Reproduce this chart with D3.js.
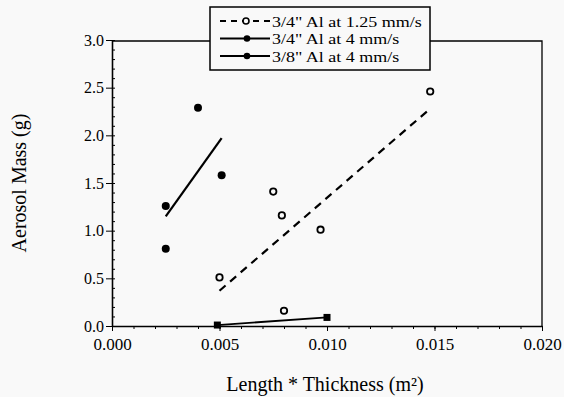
<!DOCTYPE html>
<html>
<head>
<meta charset="utf-8">
<script src="https://cdn.jsdelivr.net/npm/d3@7"></script>
<style>
  body { margin: 0; background: #f9f9f9; }
  svg { display: block; }
  .axis text { font-family: "Liberation Serif", "Times New Roman", serif; fill: #000; }
  .axis path, .axis line { stroke: #000; }
</style>
</head>
<body>
<div id="chart"></div>
<script>
// tick labels
const xTicks = [0, 0.005, 0.010, 0.015, 0.020];
const yTicks = [0.0, 0.5, 1.0, 1.5, 2.0, 2.5, 3.0];

// legend entries
const seriesNames = ['3/4" Al at 1.25 mm/s', '3/4" Al at 4 mm/s', '3/8" Al at 4 mm/s'];

// 3/4" Al at 1.25 mm/s (open circles + dashed fit)
const slowX = [0.0050, 0.0075, 0.0079, 0.0080, 0.0097, 0.0148];
const slowY = [0.51, 1.41, 1.16, 0.16, 1.01, 2.46];
const slowFitX = [0.0050, 0.0148];
const slowFitY = [0.37, 2.28];

// 3/4" Al at 4 mm/s (filled squares + line)
const fastX = [0.0049, 0.0100];
const fastY = [0.01, 0.09];

// 3/8" Al at 4 mm/s (filled circles + fit)
const thinX = [0.0025, 0.0025, 0.0040, 0.0051];
const thinY = [0.81, 1.26, 2.29, 1.58];
const thinFitX = [0.0025, 0.0051];
const thinFitY = [1.15, 1.97];

const width = 564, height = 397;
const plotL = 112, plotR = 542, plotT = 40, plotB = 326;

const svg = d3.select('#chart').append('svg')
  .attr('width', width).attr('height', height);

svg.append('rect').attr('width', width).attr('height', height).attr('fill', '#f9f9f9');

const x = d3.scaleLinear().domain([0, 0.02]).range([plotL, plotR]);
const y = d3.scaleLinear().domain([0, 3]).range([plotB, plotT]);

const font = '"Liberation Serif", "Times New Roman", serif';

// frame top / right
svg.append('path')
  .attr('d', `M${plotL},${plotT + 1}H${plotR}V${plotB}`)
  .attr('fill', 'none').attr('stroke', '#000').attr('stroke-width', 1.3);

// minor ticks
svg.append('g').attr('class', 'axis')
  .attr('transform', `translate(${plotL},0)`)
  .call(d3.axisRight(y).tickValues(d3.range(0, 3.001, 0.1)).tickSize(3).tickFormat(''))
  .call(g => g.select('.domain').remove());
svg.append('g').attr('class', 'axis')
  .attr('transform', `translate(0,${plotB})`)
  .call(d3.axisBottom(x).tickValues(d3.range(0, 0.0201, 0.001)).tickSize(3).tickFormat(''))
  .call(g => g.select('.domain').remove());

// major axes
svg.append('g').attr('class', 'axis')
  .attr('transform', `translate(${plotL},0)`)
  .call(d3.axisLeft(y).tickValues(yTicks).tickSize(6).tickSizeOuter(0).tickPadding(2).tickFormat(d3.format('.1f')))
  .call(g => g.select('.domain').attr('stroke-width', 1.6))
  .call(g => g.selectAll('text').attr('font-size', 16));

svg.append('g').attr('class', 'axis')
  .attr('transform', `translate(0,${plotB})`)
  .call(d3.axisBottom(x).tickValues(xTicks).tickSize(5).tickSizeOuter(0).tickPadding(7).tickFormat(d3.format('.3f')))
  .call(g => g.select('.domain').attr('stroke-width', 1.6))
  .call(g => g.selectAll('text').attr('font-size', 17));

// axis titles
svg.append('text')
  .attr('x', (plotL + plotR) / 2 - 2).attr('y', 391)
  .attr('text-anchor', 'middle')
  .attr('font-family', font).attr('font-size', 20)
  .text('Length * Thickness (m²)');

svg.append('text')
  .attr('transform', `translate(26,${(plotT + plotB) / 2}) rotate(-90)`)
  .attr('text-anchor', 'middle')
  .attr('font-family', font).attr('font-size', 20)
  .text('Aerosol Mass (g)');

const line = d3.line().x(d => x(d[0])).y(d => y(d[1]));

// fit lines
svg.append('path')
  .datum(d3.zip(slowFitX, slowFitY))
  .attr('d', line).attr('fill', 'none')
  .attr('stroke', '#000').attr('stroke-width', 2.2).attr('stroke-dasharray', '8 6');

svg.append('path')
  .datum(d3.zip(fastX, fastY))
  .attr('d', line).attr('fill', 'none')
  .attr('stroke', '#000').attr('stroke-width', 1.8);

svg.append('path')
  .datum(d3.zip(thinFitX, thinFitY))
  .attr('d', line).attr('fill', 'none')
  .attr('stroke', '#000').attr('stroke-width', 2.2);

// markers
svg.append('g').selectAll('circle')
  .data(d3.zip(slowX, slowY)).join('circle')
  .attr('cx', d => x(d[0])).attr('cy', d => y(d[1])).attr('r', 3.2)
  .attr('fill', '#f9f9f9').attr('stroke', '#000').attr('stroke-width', 1.8);

svg.append('g').selectAll('rect')
  .data(d3.zip(fastX, fastY)).join('rect')
  .attr('x', d => x(d[0]) - 3.5).attr('y', d => y(d[1]) - 3.5)
  .attr('width', 7).attr('height', 7).attr('fill', '#000');

svg.append('g').selectAll('circle')
  .data(d3.zip(thinX, thinY)).join('circle')
  .attr('cx', d => x(d[0])).attr('cy', d => y(d[1])).attr('r', 4)
  .attr('fill', '#000');

// legend
const lg = svg.append('g');
lg.append('rect')
  .attr('x', 210).attr('y', 7).attr('width', 220).attr('height', 63)
  .attr('fill', '#f9f9f9').attr('stroke', '#000').attr('stroke-width', 1.5);

const rowY = [21, 38.5, 56];
const markerKinds = ['open', 'square', 'filled'];
seriesNames.forEach((name, i) => {
  const ry = rowY[i];
  lg.append('line')
    .attr('x1', 220).attr('x2', 270).attr('y1', ry).attr('y2', ry)
    .attr('stroke', '#000').attr('stroke-width', 1.8)
    .attr('stroke-dasharray', i === 0 ? '6 5' : null);
  if (markerKinds[i] === 'open') {
    lg.append('circle').attr('cx', 246).attr('cy', ry).attr('r', 3)
      .attr('fill', '#f9f9f9').attr('stroke', '#000').attr('stroke-width', 1.6);
  } else {
    lg.append('circle').attr('cx', 247).attr('cy', ry).attr('r', 3.3).attr('fill', '#000');
  }
  lg.append('text')
    .attr('transform', `translate(272,${ry + 5.5}) scale(1.2,1)`)
    .attr('font-family', font).attr('font-size', 15)
    .text(name);
});
</script>
</body>
</html>
